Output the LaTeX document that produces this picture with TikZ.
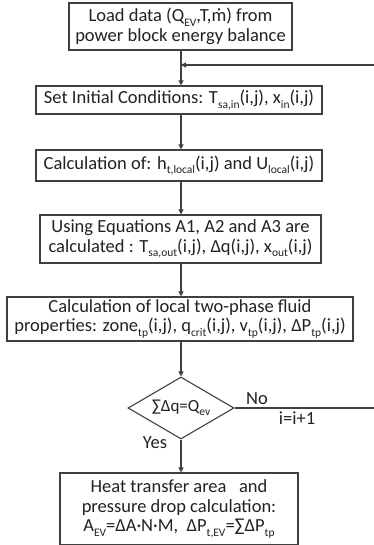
\documentclass[tikz,border=0pt]{standalone}
\usepackage{fontspec}
\setmainfont{Carlito}
\usetikzlibrary{shapes.geometric,arrows.meta}
% lowered, reduced-size subscript in the running text font
\newcommand{\lo}[1]{\raisebox{-0.25em}{\fontsize{11.5}{11.5}\selectfont #1}}
\definecolor{ink}{HTML}{222222}
\definecolor{edge}{HTML}{404040}
\tikzset{
  txt/.style={text=ink, font=\fontsize{18.5}{19.5}\selectfont},
  proc/.style={draw=edge, line width=1.1pt, rectangle, align=center, inner sep=0pt, txt},
  decide/.style={draw=edge, line width=1.1pt, diamond, aspect=1.7, inner sep=0pt,
    text=ink, font=\fontsize{17}{17}\selectfont},
  flow/.style={draw=edge, line width=1.1pt, -{Triangle[length=5pt,width=5pt]}},
  tag/.style={txt, inner sep=0pt}
}
\begin{document}
\begin{tikzpicture}[x=1pt,y=-1pt]
\useasboundingbox (0,0) rectangle (373,545);
\fill[white] (0,0) rectangle (373,545);

\node[proc, minimum width=223pt, minimum height=47pt] (load) at (180.5,26.5)
  {Load data (Q\lo{EV},T,ṁ) from\\power block energy balance};
\node[proc, minimum width=286pt, minimum height=28pt] (init) at (179,100)
  {Set Initial Conditions: T\lo{sa,in}(i,j), x\lo{in}(i,j)};
\node[proc, minimum width=286pt, minimum height=31pt] (htc) at (179,165.5)
  {Calculation of: h\lo{t,local}(i,j) and U\lo{local}(i,j)};
\node[proc, minimum width=281pt, minimum height=48pt] (eqs) at (180.5,239)
  {Using Equations A1, A2 and A3 are\\calculated : T\lo{sa,out}(i,j), Δq(i,j), x\lo{out}(i,j)};
\node[proc, minimum width=346pt, minimum height=44pt] (prop) at (180,319)
  {Calculation of local two-phase fluid\\properties: zone\lo{tp}(i,j), q\lo{crit}(i,j), v\lo{tp}(i,j), ΔP\lo{tp}(i,j)};
\node[decide, minimum width=106pt, minimum height=62pt] (chk) at (181,408)
  {∑Δq=Q\lo{ev}};
\node[proc, minimum width=238pt, minimum height=72pt] (area) at (179,509)
  {Heat transfer area\ \ \ and\\pressure drop calculation:\\A\lo{EV}=ΔA·N·M,\ \ ΔP\lo{t,EV}=∑ΔP\lo{tp}};

\coordinate (join) at (181,65);
\coordinate (loopdn) at (376,408);
\coordinate (loopup) at (376,65);

\draw[flow] (load.south -| join) -- (init.north -| join);
\draw[flow] (init.south -| join) -- (htc.north -| join);
\draw[flow] (htc.south -| join) -- (eqs.north -| join);
\draw[flow] (eqs.south -| join) -- (prop.north -| join);
\draw[flow] (prop.south -| join) -- (chk.north);
\draw[flow] (chk.south) -- (area.north -| chk.south);
\draw[flow] (chk.east) -- (loopdn) -- (loopup) -- (join);

\node[tag] (no) at (257,399) {No};
\node[tag] (inc) at (297,418) {i=i+1};
\node[tag] (yes) at (155,443) {Yes};
\end{tikzpicture}
\end{document}
